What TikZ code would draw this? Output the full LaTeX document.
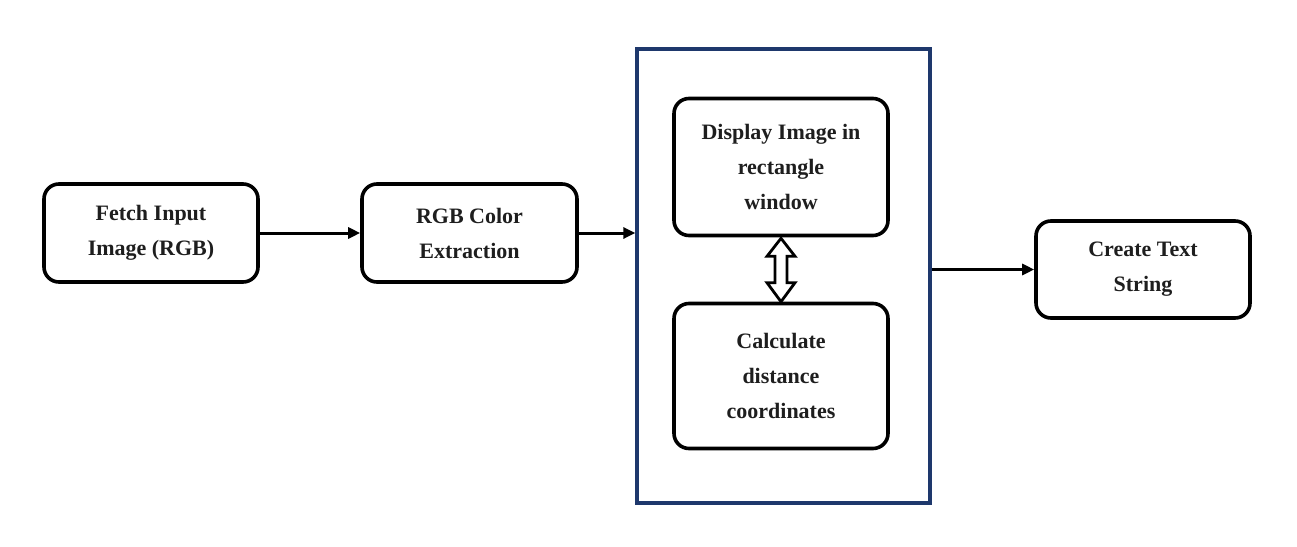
\documentclass[tikz,border=0pt]{standalone}
\usepackage{fontspec}
\setmainfont{Liberation Serif}
\usetikzlibrary{arrows.meta,calc}
\definecolor{navy}{RGB}{30,56,108}
\definecolor{ink}{RGB}{30,30,30}
\tikzset{
  blk/.style={draw=black, line width=3.6pt, rounded corners=15pt, fill=white,
    text=ink, font=\fontsize{22}{35}\selectfont\bfseries, align=center,
    inner sep=0pt},
  conn/.style={line width=3pt, -{Triangle[length=12pt,width=11pt]}},
}
\begin{document}
\begin{tikzpicture}[x=1pt,y=-1pt]
\useasboundingbox (0,0) rectangle (1297,546);
\node[draw=navy, line width=3.4pt, minimum width=293pt, minimum height=454pt, inner sep=0pt] (outer) at (783.5,276) {};
\node[blk, minimum width=214pt, minimum height=98pt] (fetch) at (151,233) {Fetch Input\\Image (RGB)};
\node[blk, minimum width=215pt, minimum height=98pt] (rgb) at (469.5,233) {RGB Color\\Extraction};
\node[blk, minimum width=214pt, minimum height=137pt] (disp) at (781,167) {Display Image in\\rectangle\\window};
\node[blk, minimum width=214pt, minimum height=145pt] (calc) at (781,376) {Calculate\\distance\\coordinates};
\node[blk, minimum width=214pt, minimum height=97pt] (text) at (1143,269.5) {Create Text\\String};
\draw[conn] (fetch.east) -- (rgb.west);
\draw[conn] (rgb.east) -- (rgb.east -| outer.west);
\draw[conn] (outer.east |- text.west) -- (text.west);
\draw[line width=2.8pt, fill=white, line join=miter]
  ($(disp.south)+(0,1)$) -- ++(14,18) -- ++(-8,0) -- ($(calc.north)+(6,-19)$)
  -- ++(8,0) -- ($(calc.north)+(0,0)$) -- ++(-14,-19) -- ++(8,0)
  -- ($(disp.south)+(-6,19)$) -- ++(-8,0) -- cycle;
\end{tikzpicture}
\end{document}
